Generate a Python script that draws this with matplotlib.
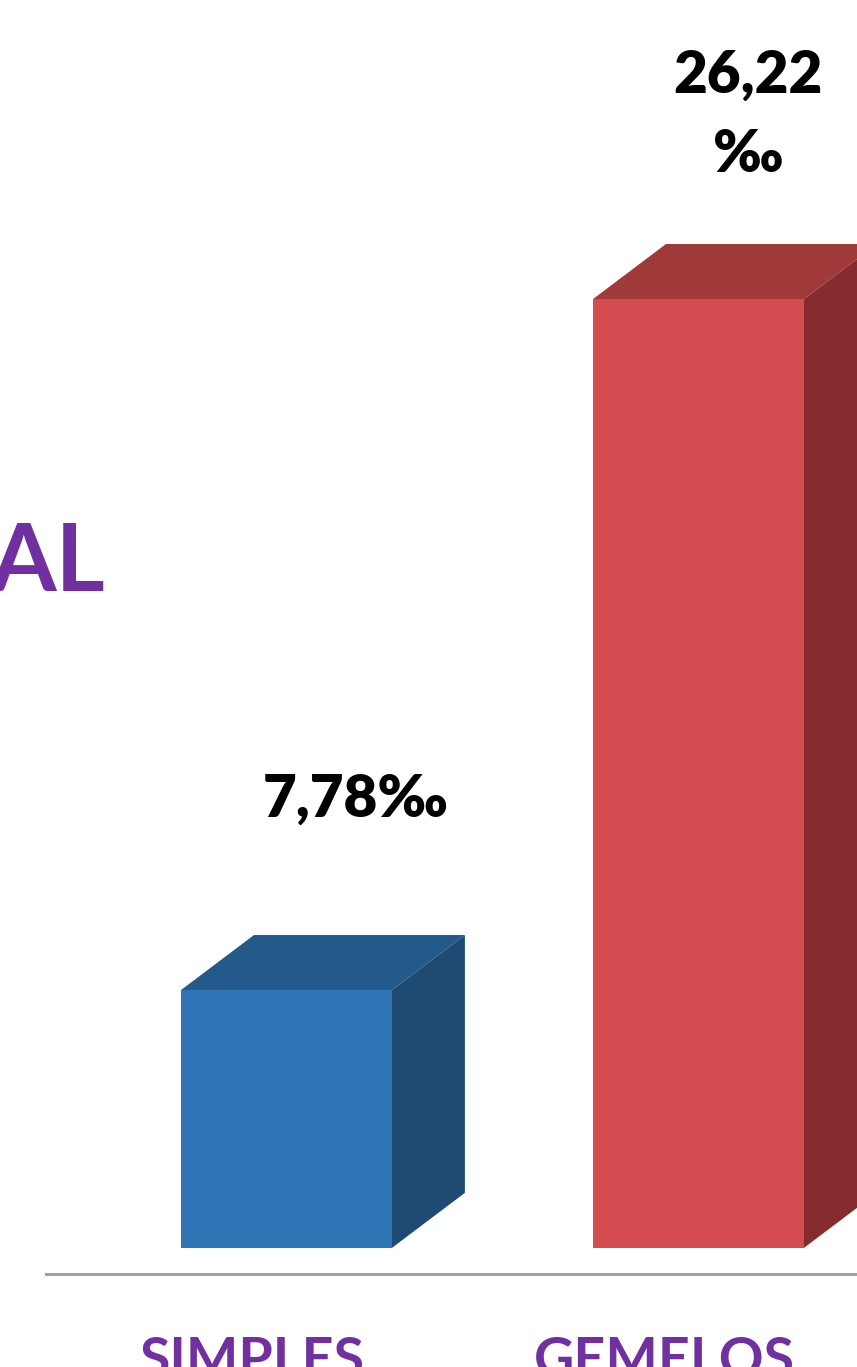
import numpy as np
import matplotlib.pyplot as plt
from matplotlib.patches import Polygon

categories = ["SIMPLES", "GEMELOS"]
values = [7.78, 26.22]
value_labels = ["7,78‰", "26,22\n‰"]

front_colors = ["#2F75B5", "#D44C4F"]
top_colors = ["#235A8A", "#A0393A"]
side_colors = ["#1E4A73", "#862C30"]
purple = "#7030A0"

FLOOR = 0.9      # bars sit on the 3D floor
WIDTH = 0.512
DX, DY = 0.177, 1.468   # depth of the 3D extrusion

fig = plt.figure(figsize=(8.57, 13.67), dpi=100)
ax = fig.add_axes([0, 0, 1, 1])
ax.set_xlim(-0.6954, 1.3847)
ax.set_ylim(-2.279, 34.20)
ax.axis("off")

x = np.arange(len(categories))
vals = np.array(values)
ax.bar(x, vals - FLOOR, bottom=FLOOR, width=WIDTH, color=front_colors, zorder=3)

for xi, v, tc, sc in zip(x, vals, top_colors, side_colors):
    l, r = xi - WIDTH / 2, xi + WIDTH / 2
    top = Polygon([(l, v), (r, v), (r + DX, v + DY), (l + DX, v + DY)],
                  closed=True, facecolor=tc, edgecolor="none", zorder=3)
    side = Polygon([(r, FLOOR), (r + DX, FLOOR + DY), (r + DX, v + DY), (r, v)],
                   closed=True, facecolor=sc, edgecolor="none", zorder=3)
    ax.add_patch(top)
    ax.add_patch(side)

# floor line
ax.plot([-0.584, 1.3847], [0.2, 0.2], color="#A0A0A0", lw=2.2, zorder=2)

# value labels
ax.text(x[0] + 0.167, vals[0] + 5.1, value_labels[0], ha="center", va="center",
        fontsize=42, fontweight="heavy", family="Lato", color="black")
ax.text(x[1] + 0.12, vals[1] + 4.91, value_labels[1], ha="center", va="center",
        fontsize=42, fontweight="heavy", family="Lato", color="black",
        linespacing=1.6)

# category labels (cut by the bottom edge)
for xi, c in zip(x, categories):
    ax.text(xi - 0.083, -1.45, c, ha="center", va="top", fontsize=40,
            fontweight="bold", family="Lato", color=purple)

# end of the cropped title
fig.text(105 / 857, 1 - 564 / 1367, "AL", ha="right", va="center",
         fontsize=68, fontweight="bold", family="Lato", color=purple)

fig.savefig("out.png", dpi=100)
